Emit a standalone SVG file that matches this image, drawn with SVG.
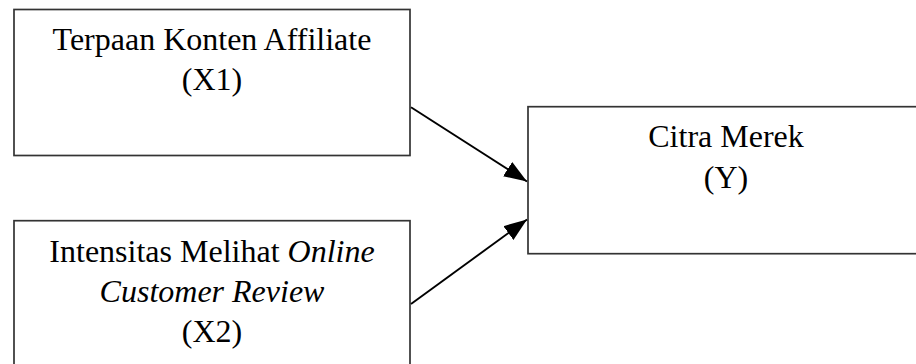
<svg xmlns="http://www.w3.org/2000/svg" width="916" height="364" viewBox="0 0 916 364">
<defs>
<style>
.box{fill:#fff;stroke:#333;stroke-width:1.7}
.t{font-family:"Liberation Serif","Times New Roman",serif;font-size:32px;fill:#000;text-anchor:middle}
.i{font-style:italic}
.c{stroke:#000;stroke-width:1.9;fill:none}
</style>
<marker id="ah" markerUnits="userSpaceOnUse" markerWidth="24" markerHeight="20" viewBox="0 0 24 20" refX="23" refY="10" orient="auto">
<path d="M0,1.5 L23,10 L0,18.5 Z" fill="#000"/>
</marker>
</defs>
<rect width="916" height="364" fill="#fff"/>
<g id="x1">
<rect class="box" x="14" y="9.5" width="396" height="146"/>
<text class="t" x="212" y="49.5">Terpaan Konten Affiliate</text>
<text class="t" x="212" y="90">(X1)</text>
</g>
<g id="x2">
<rect class="box" x="14" y="220.7" width="396" height="160"/>
<text class="t" x="212" y="261.5">Intensitas Melihat <tspan class="i">Online</tspan></text>
<text class="t i" x="212" y="301.5">Customer Review</text>
<text class="t" x="212" y="342">(X2)</text>
</g>
<g id="y">
<rect class="box" x="528" y="106.7" width="396" height="147"/>
<text class="t" x="726" y="147">Citra Merek</text>
<text class="t" x="726" y="187.5">(Y)</text>
</g>
<g id="connectors">
<line class="c" x1="411" y1="107.3" x2="527" y2="181.5" marker-end="url(#ah)"/>
<line class="c" x1="411" y1="304" x2="527" y2="219.5" marker-end="url(#ah)"/>
</g>
</svg>
